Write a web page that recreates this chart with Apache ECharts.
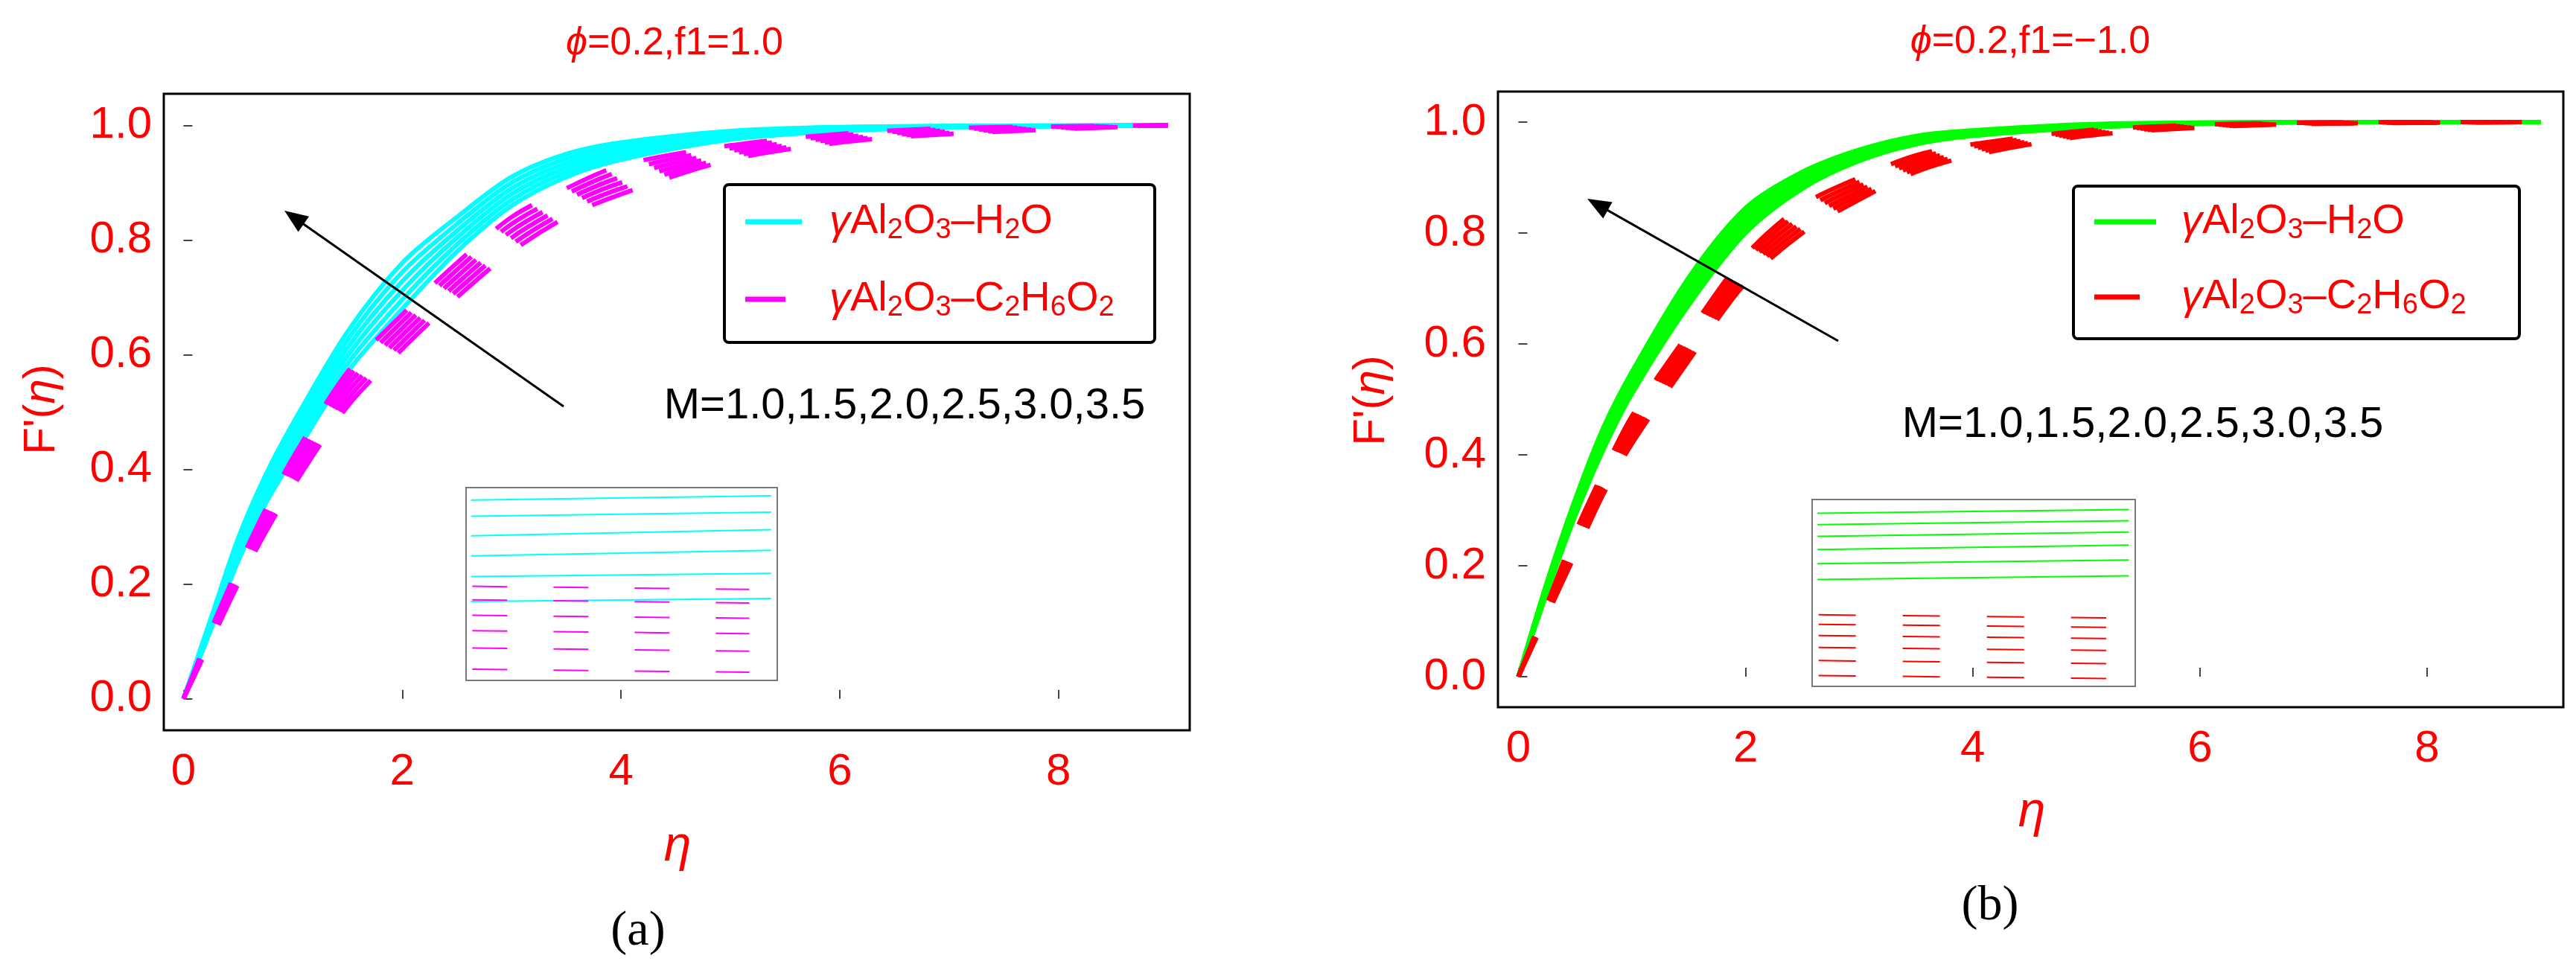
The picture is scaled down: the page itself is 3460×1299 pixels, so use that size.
<!DOCTYPE html>
<html>
<head>
<meta charset="UTF-8">
<script src="https://cdn.jsdelivr.net/npm/echarts@6/dist/echarts.min.js"></script>
<style>html,body{margin:0;background:#fff}#c{width:3460px;height:1299px}</style>
</head>
<body>
<div id="c"></div>
<script>
var eta = [0, 0.25, 0.5, 0.75, 1, 1.5, 2, 2.5, 3, 3.5, 4, 5, 6, 7, 9];
var mLabels = ['1.0', '1.5', '2.0', '2.5', '3.0', '3.5'];
// panel (a) f1 = 1.0
var cyanA = [
  [0, 0.12, 0.24, 0.34, 0.42, 0.57, 0.68, 0.78, 0.86, 0.91, 0.94, 0.975, 0.990, 0.996, 1],
  [0, 0.124, 0.248, 0.35, 0.432, 0.584, 0.696, 0.792, 0.870, 0.918, 0.946, 0.978, 0.991, 0.997, 1],
  [0, 0.128, 0.256, 0.36, 0.444, 0.598, 0.712, 0.804, 0.880, 0.926, 0.952, 0.981, 0.993, 0.997, 1],
  [0, 0.132, 0.264, 0.37, 0.456, 0.612, 0.728, 0.816, 0.890, 0.934, 0.958, 0.984, 0.994, 0.998, 1],
  [0, 0.136, 0.272, 0.38, 0.468, 0.626, 0.744, 0.828, 0.900, 0.942, 0.964, 0.987, 0.996, 0.999, 1],
  [0, 0.14, 0.28, 0.39, 0.48, 0.64, 0.76, 0.84, 0.91, 0.95, 0.97, 0.99, 0.997, 0.999, 1]
];
var magentaA = [
  [0, 0.10, 0.20, 0.29, 0.37, 0.51, 0.61, 0.70, 0.78, 0.84, 0.88, 0.940, 0.970, 0.985, 1],
  [0, 0.104, 0.206, 0.298, 0.38, 0.522, 0.622, 0.712, 0.792, 0.850, 0.890, 0.945, 0.973, 0.987, 1],
  [0, 0.108, 0.212, 0.306, 0.39, 0.534, 0.634, 0.724, 0.804, 0.860, 0.900, 0.950, 0.976, 0.989, 1],
  [0, 0.112, 0.218, 0.314, 0.40, 0.546, 0.646, 0.736, 0.816, 0.870, 0.910, 0.955, 0.979, 0.991, 1],
  [0, 0.116, 0.224, 0.322, 0.41, 0.558, 0.658, 0.748, 0.828, 0.880, 0.920, 0.960, 0.982, 0.993, 1],
  [0, 0.12, 0.23, 0.33, 0.42, 0.57, 0.67, 0.76, 0.84, 0.89, 0.93, 0.965, 0.985, 0.995, 1]
];
// panel (b) f1 = -1.0
var greenB = [
  [0, 0.150, 0.290, 0.410, 0.510, 0.670, 0.800, 0.880, 0.930, 0.960, 0.975, 0.990, 0.997, 1, 1],
  [0, 0.154, 0.296, 0.418, 0.518, 0.680, 0.809, 0.886, 0.934, 0.963, 0.977, 0.991, 0.997, 1, 1],
  [0, 0.158, 0.302, 0.426, 0.526, 0.690, 0.818, 0.892, 0.938, 0.966, 0.979, 0.992, 0.998, 1, 1],
  [0, 0.162, 0.308, 0.434, 0.534, 0.700, 0.827, 0.898, 0.942, 0.969, 0.981, 0.994, 0.998, 1, 1],
  [0, 0.166, 0.314, 0.442, 0.542, 0.710, 0.836, 0.904, 0.946, 0.972, 0.983, 0.995, 0.999, 1, 1],
  [0, 0.170, 0.320, 0.450, 0.550, 0.720, 0.845, 0.910, 0.950, 0.975, 0.985, 0.996, 0.999, 1, 1]
];
var redB = [
  [0, 0.110, 0.220, 0.330, 0.420, 0.570, 0.710, 0.800, 0.860, 0.910, 0.940, 0.975, 0.990, 0.997, 1],
  [0, 0.114, 0.228, 0.338, 0.430, 0.580, 0.720, 0.810, 0.868, 0.916, 0.944, 0.977, 0.991, 0.997, 1],
  [0, 0.118, 0.236, 0.346, 0.440, 0.590, 0.730, 0.820, 0.876, 0.922, 0.948, 0.979, 0.992, 0.998, 1],
  [0, 0.122, 0.244, 0.354, 0.450, 0.600, 0.740, 0.830, 0.884, 0.928, 0.952, 0.981, 0.993, 0.998, 1],
  [0, 0.126, 0.252, 0.362, 0.460, 0.610, 0.750, 0.840, 0.892, 0.934, 0.956, 0.983, 0.994, 0.999, 1],
  [0, 0.130, 0.260, 0.370, 0.470, 0.620, 0.760, 0.850, 0.900, 0.940, 0.960, 0.985, 0.995, 0.999, 1]
];
// inset samples (x range 0..1, y levels left/right)
var insetA_lineL = [0.935, 0.851, 0.75, 0.646, 0.539, 0.409];
var insetA_lineR = [0.958, 0.873, 0.782, 0.675, 0.555, 0.425];
var insetA_dash = [0.48, 0.41, 0.33, 0.25, 0.16, 0.05];
var insetB_lineL = [0.926, 0.866, 0.803, 0.732, 0.656, 0.572];
var insetB_lineR = [0.946, 0.886, 0.826, 0.756, 0.676, 0.592];
var insetB_dash = [0.375, 0.324, 0.264, 0.2, 0.13, 0.05];
var xTicks = [0, 2, 4, 6, 8];
var yTicks = [0, 0.2, 0.4, 0.6, 0.8, 1.0];

var chart = echarts.init(document.getElementById('c'));
var red = '#ff0000';
var font = 'Liberation Sans';

function pairs(ys) { return eta.map(function (x, i) { return [x, ys[i]]; }); }

function xAx(gi) {
  return {
    gridIndex: gi, type: 'value', min: -0.18, max: 9.2,
    axisLine: { show: false },
    axisTick: { inside: true, length: 12, lineStyle: { color: '#444', width: 2 }, customValues: xTicks },
    axisLabel: { color: red, fontSize: 60, fontFamily: font, margin: 26, customValues: xTicks },
    splitLine: { show: false }
  };
}
function yAx(gi) {
  return {
    gridIndex: gi, type: 'value', min: -0.055, max: 1.055,
    axisLine: { show: false },
    axisTick: { inside: true, length: 12, lineStyle: { color: '#444', width: 2 }, customValues: yTicks },
    axisLabel: { color: red, fontSize: 60, fontFamily: font, margin: 16, customValues: yTicks,
      formatter: function (v) { return v.toFixed(1); } },
    splitLine: { show: false }
  };
}
function hidAx(gi) {
  return { gridIndex: gi, type: 'value', min: 0, max: 1, show: false };
}

var series = [];
function addCurves(sets, color, gi, dashed) {
  sets.forEach(function (ys, k) {
    series.push({
      type: 'line', xAxisIndex: gi, yAxisIndex: gi, smooth: 0.3, symbol: 'none',
      name: 'M=' + mLabels[k], data: pairs(ys), z: dashed ? 3 : 2,
      lineStyle: dashed ? { color: color, width: 6, type: [58, 52] } : { color: color, width: 6 }
    });
  });
}
addCurves(cyanA, '#00ffff', 0, false);
addCurves(magentaA, '#ff00ff', 0, true);
addCurves(greenB, '#00ff00', 1, false);
addCurves(redB, '#ff0000', 1, true);

function addInset(gi, L, R, D, lc, dc, dash) {
  L.forEach(function (v, k) {
    series.push({ type: 'line', xAxisIndex: gi, yAxisIndex: gi, symbol: 'none', silent: true,
      data: [[0.016, v], [0.98, R[k]]], lineStyle: { color: lc, width: 2 } });
  });
  D.forEach(function (v) {
    series.push({ type: 'line', xAxisIndex: gi, yAxisIndex: gi, symbol: 'none', silent: true,
      data: [[0.02, v + 0.008], [0.91, v - 0.008]], lineStyle: { color: dc, width: 2, type: dash } });
  });
}
addInset(2, insetA_lineL, insetA_lineR, insetA_dash, '#00ffff', '#ff00ff', [47, 62]);
addInset(3, insetB_lineL, insetB_lineR, insetB_dash, '#00ff00', '#ff0000', [50, 63]);

var rich = {
  t: { font: '56px "Liberation Sans"', fill: red },
  s: { font: '38px "Liberation Sans"', fill: red, padding: [24, 0, 0, 0] },
  g: { font: 'italic 56px "Liberation Sans"', fill: red }
};
var lblH2O = '{g|γ}{t|Al}{s|2}{t|O}{s|3}{t|–H}{s|2}{t|O}';
var lblEG = '{g|γ}{t|Al}{s|2}{t|O}{s|3}{t|–C}{s|2}{t|H}{s|6}{t|O}{s|2}';

function legendBox(x0, y0, x1, y1, lx0, lx1, ly1, ly2, tx, c1, c2) {
  return [
    { type: 'rect', shape: { x: x0, y: y0, width: x1 - x0, height: y1 - y0, r: 6 },
      style: { fill: '#fff', stroke: '#000', lineWidth: 4 }, z: 20 },
    { type: 'line', shape: { x1: lx0, y1: ly1, x2: lx1, y2: ly1 }, style: { stroke: c1, lineWidth: 7 }, z: 21 },
    { type: 'line', shape: { x1: lx0, y1: ly2, x2: lx1 - 22, y2: ly2 }, style: { stroke: c2, lineWidth: 7 }, z: 21 },
    { type: 'text', x: tx, y: ly1, style: { text: lblH2O, rich: rich, verticalAlign: 'middle' }, z: 21 },
    { type: 'text', x: tx, y: ly2, style: { text: lblEG, rich: rich, verticalAlign: 'middle' }, z: 21 }
  ];
}
function arrow(x1, y1, x2, y2) {
  var a = Math.atan2(y2 - y1, x2 - x1), L = 34, w = 0.38;
  return [
    { type: 'line', shape: { x1: x1, y1: y1, x2: x2 - Math.cos(a) * 20, y2: y2 - Math.sin(a) * 20 },
      style: { stroke: '#000', lineWidth: 3 }, z: 20 },
    { type: 'polygon', shape: { points: [[x2, y2],
      [x2 - L * Math.cos(a - w), y2 - L * Math.sin(a - w)],
      [x2 - L * Math.cos(a + w), y2 - L * Math.sin(a + w)]] }, style: { fill: '#000' }, z: 20 }
  ];
}
function txt(x, y, s, size, o) {
  return { type: 'text', x: x, y: y, z: 22, style: Object.assign({ text: s, align: 'center', verticalAlign: 'middle',
    fill: red, font: size + 'px "Liberation Sans"' }, o || {}) };
}
var titleRich = {
  g: { font: 'italic 52px "Liberation Sans"', fill: red },
  t: { font: '52px "Liberation Sans"', fill: red }
};
var axRich = {
  i: { font: 'italic 60px "Liberation Sans"', fill: red },
  t: { font: '60px "Liberation Sans"', fill: red }
};

var graphic = [].concat(
  legendBox(973, 248, 1551, 460, 1001, 1077, 298, 402, 1114, '#00ffff', '#ff00ff'),
  legendBox(2785, 250, 3384, 455, 2813, 2896, 298, 399, 2930, '#00ff00', '#ff0000'),
  arrow(757, 546, 382, 283),
  arrow(2469, 458, 2132, 267),
  [
    txt(1215, 546, 'M=1.0,1.5,2.0,2.5,3.0,3.5', 58, { fill: '#000' }),
    txt(2878, 571, 'M=1.0,1.5,2.0,2.5,3.0,3.5', 58, { fill: '#000' }),
    txt(906, 59, '{g|ϕ}{t|=0.2,f1=1.0}', 52, { rich: titleRich }),
    txt(2727, 57, '{g|ϕ}{t|=0.2,f1=−1.0}', 52, { rich: titleRich }),
    txt(910, 1138, 'η', 66, { font: 'italic 66px "Liberation Sans"' }),
    txt(2729, 1092, 'η', 66, { font: 'italic 66px "Liberation Sans"' }),
    txt(857, 1252, '(a)', 66, { fill: '#000', font: '66px "Liberation Serif"' }),
    txt(2673, 1218, '(b)', 66, { fill: '#000', font: '66px "Liberation Serif"' }),
    Object.assign(txt(56, 550, "{t|F'(}{i|η}{t|)}", 60, { rich: axRich }), { rotation: Math.PI / 2 }),
    Object.assign(txt(1842, 538, "{t|F'(}{i|η}{t|)}", 60, { rich: axRich }), { rotation: Math.PI / 2 })
  ]
);

chart.setOption({
  animation: false,
  grid: [
    { left: 220, top: 126, width: 1378, height: 855, show: true, borderColor: '#000', borderWidth: 3 },
    { left: 2012, top: 123, width: 1431, height: 827, show: true, borderColor: '#000', borderWidth: 3 },
    { left: 626, top: 655, width: 418, height: 259, show: true, borderColor: '#777', borderWidth: 2, z: 5 },
    { left: 2434, top: 671, width: 434, height: 251, show: true, borderColor: '#777', borderWidth: 2, z: 5 }
  ],
  xAxis: [xAx(0), xAx(1), hidAx(2), hidAx(3)],
  yAxis: [yAx(0), yAx(1), hidAx(2), hidAx(3)],
  series: series,
  graphic: graphic
});
</script>
</body>
</html>
